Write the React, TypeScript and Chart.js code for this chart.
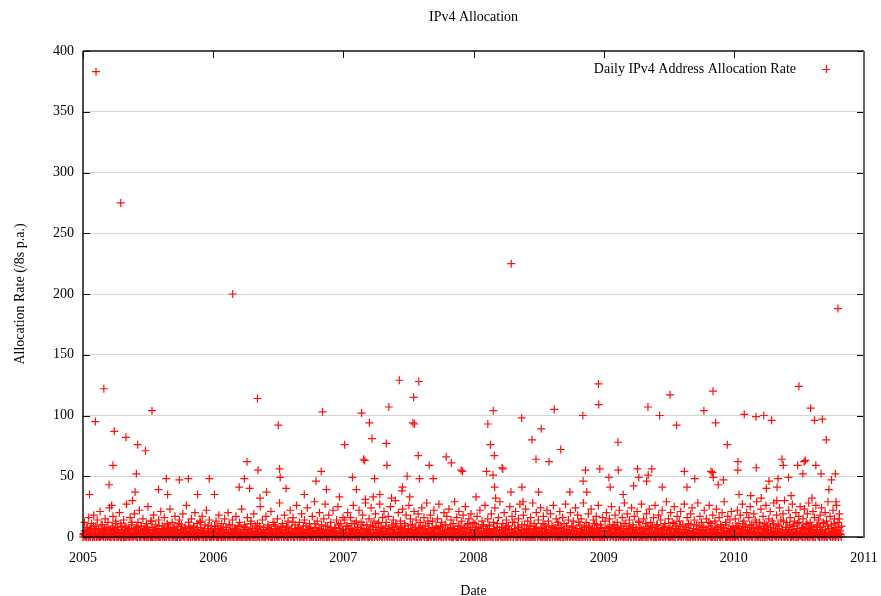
import React, { useEffect, useRef } from 'react';
import { Chart, registerables } from 'chart.js';

Chart.register(...registerables);

const chartTitle = 'IPv4 Allocation';
const seriesLabel = 'Daily IPv4 Address Allocation Rate';
const xAxisTitle = 'Date';
const yAxisTitle = 'Allocation Rate (/8s p.a.)';
const xTickValues = [2005, 2006, 2007, 2008, 2009, 2010, 2011];
const yTickValues = [0, 50, 100, 150, 200, 250, 300, 350, 400];

// Daily allocation rate, even days (every two days from 1 January of each year)
const even2005 = [
  0,3,12,1,5,0,8,2,16,4,0,7,11,2,0,18,5,3,9,0,
  14,2,6,0,21,4,1,10,3,0,7,15,2,5,0,12,1,24,6,0,
  3,9,17,2,0,5,13,1,8,0,4,20,2,11,0,6,3,14,0,9,
  2,27,5,1,7,0,16,3,10,2,0,6,19,1,4,8,0,12,3,22,
  0,5,9,2,15,1,0,7,4,11,0,25,3,6,1,13,0,8,2,18,
  5,0,10,3,7,1,14,0,4,21,2,9,0,6,16,1,3,0,11,5,
  8,0,23,2,4,12,0,7,1,17,3,0,9,5,2,14,0,6,10,1,
  19,3,0,8,4,26,2,0,12,5,1,7,15,0,3,9,2,20,0,6,
  11,1,4,0,13,8,2,17,0,5,3,10,1,22,0,7,4,14,2,0,
  9,6,1,
];
const even2006 = [
  2,0,9,4,13,1,0,6,18,3,7,0,11,2,5,0,15,1,8,3,
  0,20,4,10,0,6,2,14,1,0,7,3,17,5,0,9,2,12,0,4,
  23,1,6,0,10,3,8,0,16,2,5,1,0,13,4,7,0,19,2,9,
  0,3,11,1,6,0,25,4,2,14,0,8,3,0,17,5,1,10,0,7,
  2,21,0,4,12,3,0,9,6,1,15,0,5,28,2,8,0,11,3,0,
  18,6,1,9,0,13,4,2,22,0,7,3,16,1,0,10,5,26,0,8,
  2,12,0,4,19,1,6,0,14,3,9,0,24,2,5,11,0,7,1,17,
  0,4,29,2,8,0,13,5,1,20,0,6,10,3,0,15,2,27,4,0,
  9,1,18,0,6,12,3,0,22,5,1,8,0,14,2,25,0,7,4,11,
  0,3,16,
];
const even2007 = [
  5,0,14,2,9,1,20,0,7,3,16,0,11,4,26,1,6,0,13,2,
  8,0,22,3,5,12,0,18,1,7,0,28,4,10,2,0,15,6,1,24,
  0,9,3,13,0,19,2,6,0,11,4,27,1,8,0,16,3,21,0,5,
  12,2,0,17,7,1,25,0,10,3,14,0,6,30,2,9,0,20,4,1,
  13,0,8,23,3,0,11,5,18,1,0,7,26,2,15,0,4,10,1,21,
  0,6,14,3,0,19,8,1,12,0,24,2,5,16,0,9,3,28,0,7,
  11,1,18,0,4,13,2,22,0,6,9,0,15,3,27,1,8,0,12,5,
  0,20,2,10,0,17,4,1,23,0,7,14,2,0,11,6,29,1,3,16,
  0,9,21,2,5,0,13,1,18,0,8,25,3,0,10,4,15,0,6,19,
  1,0,12,
];
const even2008 = [
  3,0,11,6,1,17,0,8,2,22,0,5,13,1,9,0,26,3,7,0,
  15,2,10,0,4,19,1,0,12,6,24,0,3,8,0,16,2,29,1,5,
  0,11,3,20,0,7,14,1,0,9,2,25,0,6,17,3,0,12,4,21,
  1,0,8,15,2,27,0,5,10,0,18,3,1,23,0,6,13,2,0,9,
  16,0,4,28,1,11,0,7,20,2,0,14,5,1,24,0,8,3,17,0,
  10,6,0,22,2,13,1,0,19,4,9,0,26,3,7,0,15,1,12,0,
  5,21,0,8,2,16,0,11,3,27,1,6,0,14,4,0,20,2,9,0,
  13,5,1,24,0,7,18,2,0,10,3,15,0,6,28,1,9,0,12,4,
  0,19,2,8,0,23,5,1,14,0,11,3,17,0,6,26,2,0,10,7,
  0,16,3,
];
const even2009 = [
  1,0,13,5,20,0,8,2,15,0,4,25,1,10,0,7,18,3,0,12,
  6,0,22,2,9,1,16,0,5,28,0,11,3,19,0,7,14,1,0,24,
  4,10,0,17,2,6,0,21,3,13,0,8,1,27,0,5,15,2,0,11,
  19,0,7,3,23,1,12,0,9,2,16,0,26,4,0,10,6,18,1,0,
  14,3,22,0,8,1,11,0,29,5,2,15,0,7,20,1,0,12,4,25,
  0,9,2,17,0,6,13,1,21,0,4,10,0,27,3,8,1,16,0,11,
  5,0,19,2,24,0,7,14,1,0,10,3,28,0,6,17,2,12,0,8,
  1,22,0,5,15,3,0,9,26,1,11,0,6,18,2,0,13,4,23,0,
  8,2,16,0,10,1,20,0,7,29,3,12,0,5,17,1,0,14,6,21,
  0,9,2,
];
const even2010 = [
  4,0,15,8,1,22,0,11,3,18,0,6,27,2,13,0,9,1,20,5,
  0,16,3,25,1,10,0,7,19,2,14,0,29,4,8,0,12,1,23,6,
  0,17,3,11,0,26,2,9,1,15,0,21,5,0,13,3,28,1,7,0,
  18,4,10,0,24,2,14,0,6,19,1,30,0,8,12,3,0,22,5,16,
  1,0,27,9,2,13,0,20,4,11,0,17,3,25,1,7,0,15,6,23,
  0,10,2,19,0,28,4,12,1,8,0,21,3,16,0,26,5,9,1,14,
  0,18,2,24,6,0,11,3,20,1,13,0,29,7,2,17,0,10,4,22,
  1,15,0,8,26,3,12,0,19,5,2,9,
];

// Daily allocation rate, odd days (the day after each even-day reading)
const odd2005 = [
  2,0,5,1,0,8,3,0,1,6,0,2,4,0,9,1,0,3,7,0,
  1,5,0,2,0,10,3,1,0,4,6,0,2,8,0,1,3,0,5,2,
  0,7,1,0,4,11,0,2,6,0,3,1,0,9,2,5,0,1,4,0,
  8,0,2,3,0,6,1,0,12,2,0,4,1,7,0,3,0,5,2,0,
  1,9,0,3,6,0,2,1,0,5,8,0,2,4,0,1,13,0,3,0,
  6,2,0,1,4,0,9,3,0,2,5,0,1,7,0,3,0,2,10,1,
  0,4,6,0,2,1,0,8,3,0,5,1,0,2,11,0,4,0,3,6,
  1,0,2,7,0,4,1,0,9,2,0,3,5,0,1,8,0,2,4,0,
  6,1,0,3,12,0,2,5,0,1,7,0,3,0,4,9,1,0,2,6,
  0,3,1,
];
const odd2006 = [
  0,4,1,7,0,2,9,0,3,1,5,0,2,0,8,1,3,0,6,2,
  0,1,10,0,4,2,0,6,1,3,0,7,0,2,5,1,0,9,3,0,
  2,0,4,1,8,0,3,6,0,1,2,0,11,4,0,2,1,5,0,3,
  7,0,1,2,0,9,4,0,3,1,6,0,2,0,5,1,8,0,3,2,
  0,6,1,0,4,10,0,2,3,0,7,1,0,5,2,0,3,9,1,0,
  4,2,0,8,1,0,3,5,0,2,1,12,0,4,0,6,2,1,0,7,
  3,0,1,5,0,2,9,0,4,1,3,0,6,2,0,8,1,0,3,4,
  0,2,11,0,1,5,3,0,7,2,0,1,4,0,6,3,0,9,1,2,
  0,5,0,3,8,1,0,2,4,0,7,1,3,0,2,10,0,5,1,0,
  3,6,0,
];
const odd2007 = [
  3,1,0,6,2,9,0,4,1,0,7,3,0,5,2,11,0,1,4,0,
  8,2,0,3,6,1,0,10,2,0,4,1,7,0,3,5,0,2,9,1,
  0,6,3,0,2,8,1,0,4,12,0,3,1,5,0,7,2,0,3,9,
  1,0,5,2,0,6,4,1,0,8,3,0,2,11,1,0,4,6,0,2,
  7,0,3,1,5,0,9,2,0,4,1,6,0,3,10,0,2,5,1,0,
  8,3,0,4,2,7,0,1,5,0,3,9,1,0,6,2,0,4,13,0,
  2,5,1,0,8,3,0,6,2,1,0,7,4,0,3,1,9,0,2,5,
  0,4,1,10,0,3,6,2,0,1,8,0,5,3,0,2,7,1,0,4,
  6,0,2,9,1,0,3,5,0,7,2,0,4,1,11,0,3,6,0,2,
  8,1,0,
];
const odd2008 = [
  1,5,0,3,8,0,2,4,1,0,7,2,0,10,3,1,0,5,2,6,
  0,3,9,1,0,4,2,0,7,5,1,0,3,11,0,2,6,1,0,8,
  4,0,2,5,1,0,9,3,0,2,6,0,1,4,12,0,3,2,7,0,
  1,5,0,8,2,0,3,6,1,0,4,10,0,2,7,1,0,5,3,0,
  9,2,1,0,6,4,0,3,8,0,1,5,2,0,7,3,0,11,1,4,
  0,2,6,0,3,9,1,0,5,2,0,8,4,1,0,6,3,0,2,10,
  1,0,4,7,0,3,2,5,0,1,9,0,4,2,6,0,3,1,8,0,
  5,2,0,7,1,3,0,12,2,0,4,6,1,0,3,8,0,2,5,1,
  0,9,3,0,4,2,7,0,1,6,0,3,10,2,0,5,1,4,0,8,
  2,0,3,
];
const odd2009 = [
  4,0,2,7,1,0,5,3,9,0,2,6,1,0,4,10,0,3,2,8,
  0,1,5,0,3,7,2,0,11,1,4,0,6,2,0,3,9,1,0,5,
  2,8,0,4,1,0,6,3,0,12,2,1,0,7,4,0,3,5,1,0,
  9,2,0,6,3,1,0,4,8,0,2,5,0,1,10,3,0,7,2,0,
  4,1,6,0,3,9,0,2,5,1,0,8,3,0,2,6,1,0,11,4,
  0,3,7,2,0,5,1,9,0,3,2,0,6,4,1,0,8,2,0,5,
  3,0,10,1,4,0,7,2,0,3,6,1,0,9,2,0,4,5,1,0,
  8,3,0,2,6,0,1,12,4,0,3,7,0,2,5,1,0,9,3,0,
  6,2,1,0,4,8,0,3,5,2,0,10,1,0,7,3,4,0,2,6,
  1,0,5,
];
const odd2010 = [
  2,6,0,4,9,1,0,3,7,2,0,5,11,1,0,4,8,2,0,6,
  3,0,10,1,5,0,2,8,4,0,3,12,1,0,6,2,9,0,4,3,
  1,7,0,5,2,10,0,3,6,1,0,8,4,2,0,11,3,1,5,0,
  7,2,0,9,4,1,0,6,3,13,0,2,5,1,8,0,4,2,10,0,
  3,6,1,0,9,2,4,0,7,3,0,12,1,5,2,0,8,4,0,6,
  2,1,11,0,3,7,0,5,2,9,1,0,4,6,0,3,10,2,1,0,
  8,4,0,5,2,12,1,0,6,3,0,9,2,4,1,0,7,5,0,3,
  11,2,0,6,1,4,0,8,3,2,0,
];

const baseYears = [2005, 2006, 2007, 2008, 2009, 2010];
const evenSeries = [even2005, even2006, even2007, even2008, even2009, even2010];
const oddSeries = [odd2005, odd2006, odd2007, odd2008, odd2009, odd2010];

// Higher daily readings (date as fractional year)
const peakDates = [
  2005.05, 2005.10, 2005.095, 2005.16, 2005.20, 2005.22, 2005.23, 2005.24, 2005.29, 2005.33,
  2005.38, 2005.40, 2005.41, 2005.42, 2005.48, 2005.53, 2005.58, 2005.64, 2005.65, 2005.74,
  2005.81, 2005.88, 2005.97, 2006.01,
  2006.15, 2006.20, 2006.24, 2006.26, 2006.28, 2006.34, 2006.345, 2006.36, 2006.41, 2006.50,
  2006.51, 2006.515, 2006.56, 2006.70, 2006.79, 2006.83, 2006.84, 2006.87, 2006.97,
  2007.01, 2007.07, 2007.10, 2007.14, 2007.155, 2007.165, 2007.17, 2007.20, 2007.22, 2007.23,
  2007.24, 2007.28, 2007.33, 2007.335, 2007.35, 2007.37, 2007.43, 2007.45, 2007.455, 2007.49,
  2007.51, 2007.54, 2007.535, 2007.545, 2007.58, 2007.585, 2007.575, 2007.66, 2007.69, 2007.79,
  2007.83, 2007.905, 2007.915,
  2008.02, 2008.10, 2008.11, 2008.13, 2008.15, 2008.152, 2008.16, 2008.162, 2008.17, 2008.22,
  2008.225, 2008.29, 2008.288, 2008.37, 2008.372, 2008.38, 2008.45, 2008.48, 2008.50, 2008.52,
  2008.58, 2008.62, 2008.67, 2008.74, 2008.84, 2008.842, 2008.86, 2008.87, 2008.96, 2008.962,
  2008.97,
  2009.04, 2009.05, 2009.11, 2009.112, 2009.15, 2009.23, 2009.26, 2009.27, 2009.33, 2009.34,
  2009.342, 2009.37, 2009.43, 2009.45, 2009.51, 2009.56, 2009.62, 2009.64, 2009.70, 2009.77,
  2009.825, 2009.835, 2009.84, 2009.842, 2009.86, 2009.88, 2009.92, 2009.95,
  2010.03, 2010.032, 2010.04, 2010.08, 2010.13, 2010.17, 2010.172, 2010.21, 2010.23, 2010.25,
  2010.27, 2010.29, 2010.33, 2010.332, 2010.34, 2010.37, 2010.38, 2010.42, 2010.44, 2010.49,
  2010.50, 2010.53, 2010.54, 2010.55, 2010.59, 2010.60, 2010.62, 2010.63, 2010.67, 2010.68,
  2010.71, 2010.73, 2010.75, 2010.78, 2010.785, 2010.80, 2010.81,
];
const peakValues = [
  35, 383, 95, 122, 43, 26, 59, 87, 275, 82,
  30, 37, 52, 76, 71, 104, 39, 48, 35, 47,
  48, 35, 48, 35,
  200, 41, 48, 62, 40, 114, 55, 32, 37, 92,
  56, 49, 40, 35, 46, 54, 103, 39, 33,
  76, 49, 39, 102, 64, 63, 31, 94, 81, 33,
  48, 35, 77, 59, 107, 32, 129, 38, 41, 50,
  33, 115, 94, 93, 128, 48, 67, 59, 48, 66,
  61, 55, 54,
  33, 54, 93, 76, 51, 104, 67, 41, 32, 57,
  56, 225, 37, 98, 41, 29, 80, 64, 37, 89,
  62, 105, 72, 37, 100, 46, 55, 37, 126, 109,
  56,
  49, 41, 78, 55, 35, 42, 56, 49, 46, 107,
  51, 56, 100, 41, 117, 92, 54, 41, 48, 104,
  54, 53, 120, 49, 94, 43, 47, 76,
  55, 62, 35, 101, 34, 99, 57, 32, 100, 40,
  46, 96, 30, 41, 48, 64, 59, 49, 34, 59,
  124, 52, 62, 63, 106, 32, 96, 59, 52, 97,
  80, 39, 47, 52, 29, 188, 15,
];

const FONT = 'Liberation Serif, Times New Roman, serif';
const RED = 'rgb(255,16,8)';

function buildPoints() {
  const pts: { x: number; y: number }[] = [];
  baseYears.forEach((yr, k) => {
    evenSeries[k].forEach((v, i) => pts.push({ x: yr + (2 * i) / 365, y: v }));
    oddSeries[k].forEach((v, i) => pts.push({ x: yr + (2 * i + 1) / 365, y: v }));
  });
  peakDates.forEach((d, i) => pts.push({ x: d, y: peakValues[i] }));
  return pts;
}

const framePlugin = {
  id: 'gnuframe',
  afterDatasetsDraw(chart: any) {
    const { ctx, chartArea } = chart;
    const { left, right, top, bottom } = chartArea;
    const xs = chart.scales.x;
    const ys = chart.scales.y;
    ctx.save();
    ctx.strokeStyle = '#000';
    ctx.lineWidth = 1;
    ctx.beginPath();
    yTickValues.forEach((v) => {
      const py = Math.round(ys.getPixelForValue(v)) + 0.5;
      ctx.moveTo(left, py);
      ctx.lineTo(left + 7, py);
      ctx.moveTo(right - 7, py);
      ctx.lineTo(right, py);
    });
    xTickValues.forEach((v) => {
      const px = Math.round(xs.getPixelForValue(v)) + 0.5;
      ctx.moveTo(px, top);
      ctx.lineTo(px, top + 7);
      ctx.moveTo(px, bottom - 7);
      ctx.lineTo(px, bottom);
    });
    ctx.stroke();
    // border
    ctx.strokeStyle = '#111';
    ctx.lineWidth = 1.5;
    ctx.beginPath();
    ctx.moveTo(left, top);
    ctx.lineTo(right, top);
    ctx.moveTo(left, bottom);
    ctx.lineTo(right, bottom);
    ctx.moveTo(left, top);
    ctx.lineTo(left, bottom);
    ctx.stroke();
    ctx.strokeStyle = '#666';
    ctx.lineWidth = 2;
    ctx.beginPath();
    ctx.moveTo(right, top);
    ctx.lineTo(right, bottom + 1);
    ctx.stroke();

    // key (legend) in the top-right corner
    const label = chart.data.datasets[0].label;
    const ky = top + 18;
    ctx.fillStyle = '#000';
    ctx.font = '14px ' + FONT;
    ctx.textAlign = 'right';
    ctx.textBaseline = 'middle';
    ctx.fillText(label, right - 68, ky);
    const kx = right - 38;
    ctx.strokeStyle = RED;
    ctx.lineWidth = 1.2;
    ctx.beginPath();
    ctx.moveTo(kx - 4, ky + 0.5);
    ctx.lineTo(kx + 4, ky + 0.5);
    ctx.moveTo(kx + 0.5, ky - 4);
    ctx.lineTo(kx + 0.5, ky + 4);
    ctx.stroke();
    ctx.restore();
  },
};

export default function App() {
  const ref = useRef<HTMLCanvasElement | null>(null);
  useEffect(() => {
    if (!ref.current) return;
    const font = { family: FONT, size: 14, weight: 'normal' as const };
    const chart = new Chart(ref.current, {
      type: 'scatter',
      data: {
        datasets: [
          {
            label: seriesLabel,
            data: buildPoints(),
            pointStyle: 'cross',
            pointRadius: 4,
            pointHoverRadius: 4,
            pointBorderWidth: 1.2,
            borderColor: RED,
            backgroundColor: RED,
            clip: false as any,
          } as any,
        ],
      },
      options: {
        animation: false,
        responsive: false,
        devicePixelRatio: 1,
        events: [],
        layout: { padding: { left: 0, right: 17, top: 0, bottom: 0 } },
        plugins: {
          legend: { display: false },
          tooltip: { enabled: false },
          title: {
            display: true,
            text: chartTitle,
            color: '#000',
            font: { ...font, lineHeight: 1.2 },
            padding: { top: 8.6, bottom: 25.6 },
            fullSize: false,
          },
        },
        scales: {
          x: {
            type: 'linear',
            min: 2005,
            max: 2011,
            ticks: {
              stepSize: 1,
              color: '#000',
              font,
              padding: 12.5,
              maxRotation: 0,
              autoSkip: false,
              callback: (v: any) => String(v),
            },
            afterBuildTicks: (s: any) => {
              s.ticks = xTickValues.map((v) => ({ value: v }));
            },
            grid: { display: false, drawTicks: false },
            border: { display: false },
            title: {
              display: true,
              text: xAxisTitle,
              color: '#000',
              font: { ...font, lineHeight: 1 },
              padding: { top: 0, bottom: -2 },
            },
            afterFit: (s: any) => {
              s.height = 59;
              s.paddingLeft = 0;
              s.paddingRight = 0;
            },
          },
          y: {
            type: 'linear',
            min: 0,
            max: 400,
            ticks: {
              stepSize: 50,
              color: '#000',
              font,
              padding: 9,
              callback: (v: any) => String(v),
            },
            afterBuildTicks: (s: any) => {
              s.ticks = yTickValues.map((v) => ({ value: v }));
            },
            grid: {
              drawTicks: false,
              lineWidth: 1,
              color: (c: any) =>
                c.tick && (c.tick.value === 0 || c.tick.value === 400) ? 'rgba(0,0,0,0)' : '#d4d4d4',
            },
            border: { display: false },
            title: {
              display: true,
              text: yAxisTitle,
              color: '#000',
              font: { ...font, lineHeight: 1.2 },
              padding: { top: 11.6, bottom: 0 },
            },
            afterFit: (s: any) => {
              s.width = 83;
              s.paddingTop = 0;
              s.paddingBottom = 0;
            },
          },
        },
      },
      plugins: [framePlugin],
    });
    return () => chart.destroy();
  }, []);
  return (
    <div style={{ position: 'fixed', left: 0, top: 0, width: 881, height: 596, background: '#fff' }}>
      <canvas ref={ref} width={881} height={596} style={{ display: 'block', width: 881, height: 596 }} />
    </div>
  );
}
